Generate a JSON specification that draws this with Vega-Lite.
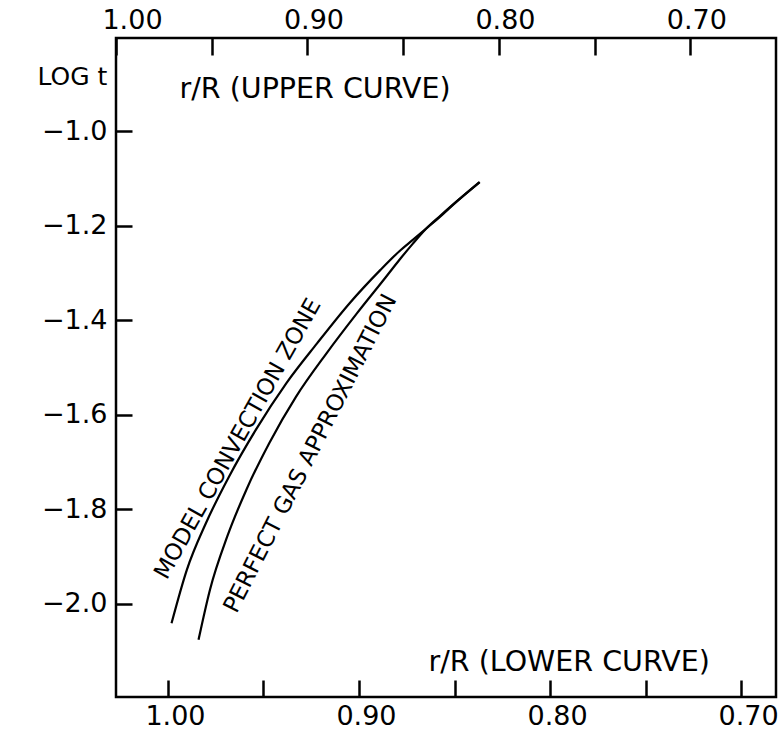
{
  "$schema": "https://vega.github.io/schema/vega-lite/v6.json",
  "width": 660,
  "height": 659,
  "autosize": {"type": "none"},
  "padding": {"left": 116, "top": 38, "right": 2, "bottom": 35},
  "background": "white",
  "config": {
    "view": {"stroke": "black", "strokeWidth": 2.5},
    "font": "DejaVu Sans",
    "axis": {
      "domain": false,
      "grid": false,
      "tickColor": "black",
      "tickWidth": 2.5,
      "labelColor": "black",
      "labelFont": "DejaVu Sans",
      "labelFontSize": 27,
      "labelFlush": false,
      "titleColor": "black",
      "titleFont": "DejaVu Sans",
      "titleFontWeight": "normal"
    }
  },
  "datasets": {
    "upper": [
      {"r": 0.971, "logt": -2.041},
      {"r": 0.963, "logt": -1.928},
      {"r": 0.953, "logt": -1.829},
      {"r": 0.941, "logt": -1.731},
      {"r": 0.927, "logt": -1.632},
      {"r": 0.911, "logt": -1.533},
      {"r": 0.895, "logt": -1.449},
      {"r": 0.878, "logt": -1.364},
      {"r": 0.862, "logt": -1.294},
      {"r": 0.852, "logt": -1.254},
      {"r": 0.845, "logt": -1.230},
      {"r": 0.838, "logt": -1.206},
      {"r": 0.831, "logt": -1.182},
      {"r": 0.824, "logt": -1.156},
      {"r": 0.810, "logt": -1.108}
    ],
    "lower": [
      {"r": 0.984, "logt": -2.076},
      {"r": 0.978, "logt": -1.970},
      {"r": 0.969, "logt": -1.858},
      {"r": 0.959, "logt": -1.759},
      {"r": 0.947, "logt": -1.660},
      {"r": 0.933, "logt": -1.562},
      {"r": 0.917, "logt": -1.470},
      {"r": 0.901, "logt": -1.385},
      {"r": 0.886, "logt": -1.309},
      {"r": 0.879, "logt": -1.273},
      {"r": 0.872, "logt": -1.239},
      {"r": 0.865, "logt": -1.207},
      {"r": 0.858, "logt": -1.181},
      {"r": 0.851, "logt": -1.156},
      {"r": 0.837, "logt": -1.108}
    ]
  },
  "layer": [
    {
      "data": {"name": "upper"},
      "mark": {"type": "line", "color": "black", "strokeWidth": 2.2, "interpolate": "monotone"},
      "encoding": {
        "x": {
          "field": "r", "type": "quantitative",
          "scale": {"domain": [1.0, 0.6553], "nice": false, "zero": false},
          "axis": {
            "orient": "top",
            "values": [1.0, 0.95, 0.9, 0.85, 0.8, 0.75, 0.7],
            "labelExpr": "(round(datum.value*100) % 10 == 0) ? format(datum.value, '.2f') : ''",
            "tickSize": -17,
            "labelPadding": 27,
            "labelBaseline": "alphabetic",
            "labelOffset": {"condition": {"test": "datum.value == 1", "value": 16}, "value": 6},
            "title": "r/R (UPPER CURVE)",
            "titleFontSize": 28.5,
            "titleAngle": 0,
            "titleAlign": "left",
            "titleBaseline": "middle",
            "titleX": 63,
            "titleY": 50
          }
        },
        "y": {
          "field": "logt", "type": "quantitative",
          "scale": {"domain": [-2.197, -0.803], "nice": false, "zero": false},
          "axis": {
            "values": [-2.0, -1.8, -1.6, -1.4, -1.2, -1.0],
            "format": ".1f",
            "tickSize": -16,
            "labelPadding": 25,
            "title": "LOG t",
            "titleFontSize": 25,
            "titleAngle": 0,
            "titleAlign": "center",
            "titleBaseline": "middle",
            "titleX": -44,
            "titleY": 38
          }
        }
      }
    },
    {
      "data": {"name": "lower"},
      "mark": {"type": "line", "color": "black", "strokeWidth": 2.2, "interpolate": "monotone"},
      "encoding": {
        "x": {
          "field": "r", "type": "quantitative",
          "scale": {"domain": [1.0272, 0.6817], "nice": false, "zero": false},
          "axis": {
            "orient": "bottom",
            "values": [1.0, 0.95, 0.9, 0.85, 0.8, 0.75, 0.7],
            "labelExpr": "(round(datum.value*100) % 10 == 0) ? format(datum.value, '.2f') : ''",
            "tickSize": -17,
            "labelPadding": 44,
            "labelBaseline": "alphabetic",
            "labelOffset": 7,
            "title": "r/R (LOWER CURVE)",
            "titleFontSize": 28.5,
            "titleAngle": 0,
            "titleAlign": "left",
            "titleBaseline": "middle",
            "titleX": 312,
            "titleY": -36
          }
        },
        "y": {"field": "logt", "type": "quantitative", "scale": {"domain": [-2.197, -0.803], "nice": false, "zero": false}}
      }
    },
    {
      "data": {"values": [{"label": "MODEL CONVECTION ZONE", "r": 0.9634, "logt": -1.6512}]},
      "mark": {"type": "text", "color": "black", "font": "DejaVu Sans", "fontSize": 23, "angle": -60.8, "align": "center", "baseline": "middle"},
      "encoding": {
        "x": {"field": "r", "type": "quantitative", "scale": {"domain": [1.0272, 0.6817], "nice": false, "zero": false}, "axis": null},
        "y": {"field": "logt", "type": "quantitative", "scale": {"domain": [-2.197, -0.803], "nice": false, "zero": false}},
        "text": {"field": "label"}
      }
    },
    {
      "data": {"values": [{"label": "PERFECT GAS APPROXIMATION", "r": 0.9254, "logt": -1.6820}]},
      "mark": {"type": "text", "color": "black", "font": "DejaVu Sans", "fontSize": 23, "angle": -63, "align": "center", "baseline": "middle"},
      "encoding": {
        "x": {"field": "r", "type": "quantitative", "scale": {"domain": [1.0272, 0.6817], "nice": false, "zero": false}, "axis": null},
        "y": {"field": "logt", "type": "quantitative", "scale": {"domain": [-2.197, -0.803], "nice": false, "zero": false}},
        "text": {"field": "label"}
      }
    }
  ],
  "resolve": {"scale": {"x": "independent"}, "axis": {"x": "independent"}}
}
